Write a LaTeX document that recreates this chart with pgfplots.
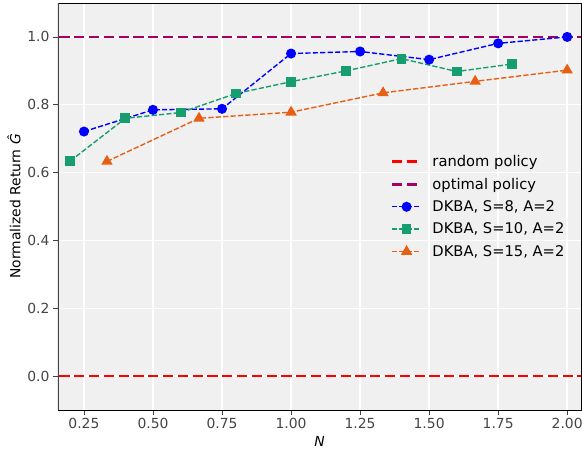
\documentclass[border=0pt]{standalone}
\usepackage{fontspec}
\setmainfont{DejaVu Sans}
\usepackage{pgfplots}
\pgfplotsset{compat=1.18}
\definecolor{bgc}{RGB}{240,240,240}
\definecolor{optc}{RGB}{165,0,100}
\definecolor{grn}{RGB}{22,158,110}
\definecolor{org}{RGB}{230,95,20}
\definecolor{tickc}{RGB}{68,68,68}
\begin{document}
\begin{tikzpicture}
\begin{axis}[
  scale only axis, width=523pt, height=407pt,
  xmin=0.156, xmax=2.05, ymin=-0.1, ymax=1.1,
  axis background/.style={fill=bgc},
  grid=major, major grid style={white, line width=1.4pt},
  axis line style={black, line width=0.8pt},
  tick align=outside, major tick length=5pt,
  tick style={tickc, line width=0.8pt},
  xtick pos=bottom, ytick pos=left,
  xtick={0.25,0.5,0.75,1.0,1.25,1.5,1.75,2.0},
  xticklabels={0.25,0.50,0.75,1.00,1.25,1.50,1.75,2.00},
  ytick={0,0.2,0.4,0.6,0.8,1.0},
  yticklabels={0.0,0.2,0.4,0.6,0.8,1.0},
  ticklabel style={font=\fontsize{13.9}{16}\selectfont, text=tickc},
  label style={font=\fontsize{13.9}{16}\selectfont},
  xlabel={\textit{N}},
  ylabel={Normalized Return \textit{\^{G}}},
  legend cell align=left,
  legend style={draw=none, fill=none, at={(0.63,0.5)}, anchor=west,
    font=\fontsize{14.7}{17}\selectfont, row sep=6pt,
    /tikz/every odd column/.append style={column sep=8pt}},
  legend image code/.code={\draw[mark repeat=2,mark phase=2,#1] plot coordinates {(0pt,0pt) (14.5pt,0pt) (29pt,0pt)};},
]
\addplot[red, line width=2.8pt, dash pattern=on 10.3pt off 4.5pt] coordinates {(0,0) (2.2,0)};
\addlegendentry{random policy}
\addplot[optc, line width=2.8pt, dash pattern=on 10.3pt off 4.5pt] coordinates {(0,1) (2.2,1)};
\addlegendentry{optimal policy}
\addplot[blue, line width=1.4pt, dash pattern=on 5.2pt off 2.2pt, mark=*, mark size=4.3pt, mark options={solid, fill=blue, draw=blue}] coordinates {
(0.25,0.721) (0.5,0.785) (0.75,0.788) (1.0,0.951) (1.25,0.957) (1.5,0.933) (1.75,0.981) (2.0,1.0)};
\addlegendentry{DKBA, S=8, A=2}
\addplot[grn, line width=1.4pt, dash pattern=on 5.2pt off 2.2pt, mark=square*, mark size=4.2pt, mark options={solid, fill=grn, draw=grn}] coordinates {
(0.2,0.634) (0.4,0.760) (0.6,0.777) (0.8,0.833) (1.0,0.868) (1.2,0.900) (1.4,0.936) (1.6,0.898) (1.8,0.920)};
\addlegendentry{DKBA, S=10, A=2}
\addplot[org, line width=1.4pt, dash pattern=on 5.2pt off 2.2pt, mark=triangle*, mark size=5.2pt, mark options={solid, fill=org, draw=org}] coordinates {
(0.3333,0.633) (0.6667,0.760) (1.0,0.778) (1.3333,0.835) (1.6667,0.869) (2.0,0.902)};
\addlegendentry{DKBA, S=15, A=2}
\draw[tickc, line width=1.5pt] (rel axis cs:0,0) -- (rel axis cs:0,1);
\node[anchor=north east, font=\fontsize{13.9}{16}\selectfont, text=tickc, inner sep=0pt] at (rel axis cs:1,0) [yshift=-21pt] {1e6};
\end{axis}
\pgfresetboundingbox
\path ([xshift=-58pt,yshift=-40pt]current axis.south west) rectangle ([xshift=1pt,yshift=3pt]current axis.north east);
\end{tikzpicture}
\end{document}
